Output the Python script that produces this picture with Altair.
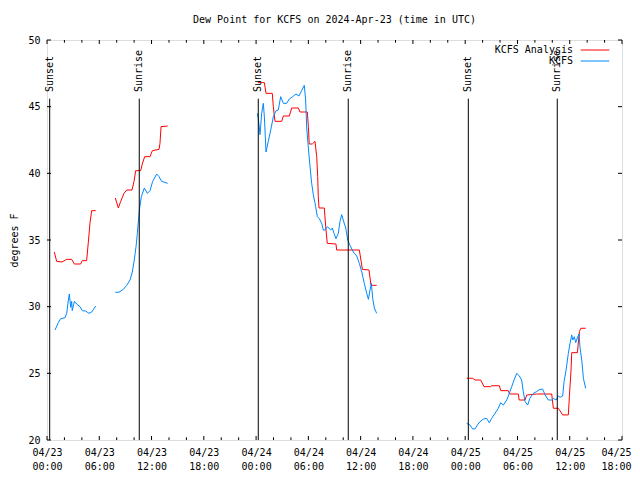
import altair as alt
import pandas as pd

FONT = "DejaVu Sans Mono"

# hours since 2024-04-23 00:00 UTC
RED_SEGMENTS = [
    ([0.84, 1.11, 1.72, 2.26, 2.83, 3.14, 3.86, 4.05, 4.55, 4.74, 4.94, 5.13, 5.59],
     [34.1, 33.4, 33.35, 33.55, 33.55, 33.2, 33.2, 33.45, 33.45, 34.8, 36.3, 37.2, 37.2]),
    ([7.84, 8.19, 8.46, 8.84, 9.15, 9.76, 9.99, 10.18, 10.75, 10.94, 11.21, 11.82, 12.09, 12.86, 12.97, 13.09, 13.85],
     [38.15, 37.4, 37.9, 38.5, 38.75, 38.75, 39.4, 40.2, 40.2, 40.7, 41.25, 41.25, 41.7, 41.8, 42.25, 43.5, 43.55]),
    ([24.2, 24.95, 25.14, 25.86, 25.98, 26.17, 26.94, 27.13, 27.81, 28.09, 28.85, 29.04, 29.88, 30.0, 30.1, 30.45,
      30.76, 30.96, 31.07, 31.14, 31.22, 31.83, 31.99, 32.17, 33.17, 33.25, 35.85, 36.2, 36.96, 37.19, 37.84],
     [46.8, 46.8, 46.0, 46.0, 45.0, 43.9, 43.9, 44.3, 44.3, 44.9, 44.9, 44.6, 44.6, 43.5, 42.2, 42.2,
      42.4, 41.25, 39.75, 38.25, 37.4, 37.4, 36.0, 34.75, 34.7, 34.25, 34.25, 32.8, 32.75, 31.6, 31.6]),
    ([48.17, 48.86, 49.13, 49.78, 50.16, 50.93, 51.04, 51.92, 52.08, 52.95, 53.1, 54.1, 54.2, 54.87, 55.06, 56.2,
      57.93, 58.12, 58.69, 59.19, 59.84, 59.96, 60.15, 60.23, 60.88, 61.11, 61.27, 61.83],
     [24.63, 24.63, 24.5, 24.5, 24.0, 24.0, 24.07, 24.07, 23.7, 23.7, 23.45, 23.45, 23.0, 23.0, 23.37, 23.45,
      23.45, 22.38, 22.38, 21.88, 21.88, 23.25, 25.25, 26.55, 26.55, 28.13, 28.38, 28.38]),
]

BLUE_SEGMENTS = [
    ([0.92, 1.30, 1.57, 2.07, 2.26, 2.45, 2.56, 2.72, 2.83, 2.90, 3.14, 3.40, 3.79, 4.06, 4.44, 4.82, 5.13, 5.59],
     [28.25, 28.8, 29.1, 29.17, 29.5, 30.5, 30.95, 29.95, 30.4, 29.7, 30.4, 30.2, 30.0, 29.7, 29.67, 29.5, 29.6, 30.05]),
    ([7.84, 8.26, 8.76, 9.15, 9.53, 9.79, 10.02, 10.22, 10.37, 10.6, 10.83, 11.17, 11.52, 11.82, 12.13, 12.59, 12.86, 13.16, 13.85],
     [31.08, 31.08, 31.3, 31.6, 32.0, 32.6, 33.5, 34.5, 35.5, 37.25, 38.25, 38.9, 38.5, 38.7, 39.4, 39.95, 39.75, 39.4, 39.25]),
    ([24.14, 24.26, 24.45, 24.64, 24.83, 24.95, 25.14, 25.4, 25.68, 25.98, 26.29, 26.55, 26.82, 27.13, 27.51, 27.81,
      28.2, 28.58, 28.92, 29.23, 29.53, 29.69, 29.81, 30.0, 30.19, 30.38, 30.57, 30.84, 31.03, 31.26, 31.53, 31.72,
      31.91, 32.17, 32.56, 32.75, 32.94, 33.17, 33.44, 33.63, 33.83, 34.0, 34.29, 34.52, 34.78, 35.16, 35.55, 35.85,
      36.13, 36.42, 36.7, 36.89, 37.08, 37.23, 37.39, 37.57, 37.84],
     [44.5, 44.1, 42.9, 44.5, 45.25, 44.25, 41.6, 42.4, 43.25, 44.25, 44.7, 44.75, 45.75, 45.25, 45.25, 45.57,
      45.75, 45.95, 45.8, 46.2, 46.6, 45.5, 43.4, 41.9, 40.5, 39.25, 38.4, 37.5, 36.75, 36.6, 36.25, 35.75,
      35.75, 36.0, 35.75, 35.9, 35.5, 35.1, 35.5, 36.4, 36.9, 36.5, 35.9, 35.0, 34.6, 34.1, 33.8, 33.25,
      32.6, 31.75, 31.0, 30.55, 31.25, 31.75, 30.6, 29.9, 29.5]),
    ([48.17, 48.55, 48.86, 49.13, 49.39, 49.7, 50.08, 50.47, 50.77, 51.04, 51.42, 51.8, 52.08, 52.38, 52.77, 53.07,
      53.34, 53.61, 53.92, 54.2, 54.48, 54.67, 54.87, 55.17, 55.43, 55.82, 56.2, 56.59, 56.89, 57.16, 57.54, 57.93,
      58.12, 58.43, 58.69, 58.89, 59.19, 59.35, 59.58, 59.84, 60.04, 60.23, 60.35, 60.53, 60.69, 60.92, 61.07,
      61.19, 61.38, 61.57, 61.83],
     [21.25, 21.12, 20.83, 20.83, 21.12, 21.37, 21.57, 21.62, 21.3, 21.62, 22.0, 22.38, 22.8, 22.62, 23.0, 23.5,
      24.0, 24.5, 25.0, 24.82, 24.5, 23.63, 22.88, 22.62, 23.13, 23.5, 23.63, 23.8, 23.82, 23.4, 23.0, 23.0,
      23.12, 23.0, 23.3, 23.2, 23.3, 24.37, 25.25, 26.5, 27.25, 27.88, 27.5, 27.75, 27.3, 27.75, 27.95,
      26.88, 26.0, 24.63, 23.87]),
]

SERIES = ["KCFS Analysis", "KCFS"]
COLORS = ["#ff0000", "#0088ff"]

EVENT_LABELS = ["Sunset", "Sunrise", "Sunset", "Sunrise", "Sunset", "Sunrise"]
EVENT_HOURS = [0.31, 10.59, 24.25, 34.58, 48.36, 58.57]

X_MAJOR = [0, 6, 12, 18, 24, 30, 36, 42, 48, 54, 60, 66]
X_MINOR = [h for h in range(0, 67, 2) if h % 6 != 0]
X_LABEL_DATES = ["04/23", "04/23", "04/23", "04/23", "04/24", "04/24", "04/24", "04/24",
                 "04/25", "04/25", "04/25", "04/25"]
X_LABEL_TIMES = ["00:00", "06:00", "12:00", "18:00"] * 3
Y_TICKS = [20, 25, 30, 35, 40, 45, 50]

rows = []
for name, segs in zip(SERIES, [RED_SEGMENTS, BLUE_SEGMENTS]):
    for i, (ts, vs) in enumerate(segs):
        for t, v in zip(ts, vs):
            rows.append({"hour": t, "value": v, "series": name, "seg": f"{name}-{i}"})
df = pd.DataFrame(rows)
ev = pd.DataFrame({"hour": EVENT_HOURS, "label": EVENT_LABELS})

label_arr = "[" + ",".join(f"['{d}','{t}']" for d, t in zip(X_LABEL_DATES, X_LABEL_TIMES)) + "]"
last_tick = X_MAJOR[-1]

xscale = alt.Scale(domain=[0, 66], nice=False, zero=False)
yscale = alt.Scale(domain=[20, 50], nice=False, zero=False)

xaxis = alt.Axis(
    values=X_MAJOR, labelExpr=f"{label_arr}[round(datum.value / 6)]", title=None,
    ticks=False, domain=False, grid=False, labelPadding=7, labelFont=FONT, labelFontSize=10,
    labelColor="black", labelAngle=0, labelLineHeight=14, labelFlush=False, labelOverlap=False,
    labelAlign={"condition": {"test": f"datum.value == {last_tick}", "value": "right"}, "value": "center"},
    labelOffset={"condition": {"test": f"datum.value == {last_tick}", "value": 9}, "value": 0})
yaxis = alt.Axis(
    values=Y_TICKS, title="degrees F", ticks=False, domain=False, grid=False, labelPadding=7,
    labelFont=FONT, labelFontSize=10, labelColor="black", titleFont=FONT, titleFontSize=10,
    titleFontWeight="normal", titleColor="black", titleX=-33, titleY=200, titleAngle=270,
    titleAlign="center", titleBaseline="middle")

xs = alt.X("hour:Q", scale=xscale, axis=xaxis)
ys = alt.Y("value:Q", scale=yscale, axis=yaxis)

lines = alt.Chart(df).mark_line(strokeWidth=1, clip=True).encode(
    x=xs, y=ys,
    color=alt.Color("series:N", scale=alt.Scale(domain=SERIES, range=COLORS), legend=None),
    detail="seg:N",
)

ev_rules = alt.Chart(ev).mark_rule(color="black", strokeWidth=1).encode(
    x=xs, y=alt.datum(45.6), y2=alt.datum(20))
ev_text = alt.Chart(ev).mark_text(angle=270, align="left", baseline="middle", font=FONT,
                                  fontSize=10, color="black").encode(
    x=xs, y=alt.datum(46.1), text="label:N")

xmaj = pd.DataFrame({"hour": X_MAJOR})
xmin = pd.DataFrame({"hour": X_MINOR})
ytk = pd.DataFrame({"value": Y_TICKS})
tick_layers = [
    alt.Chart(xmaj).mark_rule(color="black").encode(x=xs, y=alt.value(400), y2=alt.value(396)),
    alt.Chart(xmaj).mark_rule(color="black").encode(x=xs, y=alt.value(0), y2=alt.value(4)),
    alt.Chart(xmin).mark_rule(color="black").encode(x=xs, y=alt.value(400), y2=alt.value(397.3)),
    alt.Chart(xmin).mark_rule(color="black").encode(x=xs, y=alt.value(0), y2=alt.value(2.7)),
    alt.Chart(ytk).mark_rule(color="black").encode(y=ys, x=alt.value(0), x2=alt.value(4)),
    alt.Chart(ytk).mark_rule(color="black").encode(y=ys, x=alt.value(575), x2=alt.value(571)),
]

legend_layers = []
for i, (name, col) in enumerate(zip(SERIES, COLORS)):
    legend_layers.append(alt.Chart(pd.DataFrame({"series": [name]})).mark_text(
        align="right", baseline="middle", font=FONT, fontSize=10, color="black").encode(
        text="series:N", x=alt.value(526), y=alt.value(10 + 11 * i)))
    legend_layers.append(alt.Chart(pd.DataFrame({"series": [name]})).mark_rule(
        color=col, strokeWidth=1).encode(x=alt.value(533.7), x2=alt.value(562.3), y=alt.value(10 + 11 * i)))

chart = alt.layer(lines, ev_rules, ev_text, *tick_layers, *legend_layers).properties(
    width=575, height=400,
    title=alt.TitleParams("Dew Point for KCFS on 2024-Apr-23 (time in UTC)", font=FONT, fontSize=10,
                          fontWeight="normal", color="black", anchor="middle", offset=10),
    autosize=alt.AutoSizeParams(type="none"),
    padding={"left": 39, "top": 32, "right": 10, "bottom": 38},
).configure_view(stroke="black", strokeWidth=1).configure(background="white")

chart.save("out.html", embed_options={"renderer": "svg", "actions": False})
